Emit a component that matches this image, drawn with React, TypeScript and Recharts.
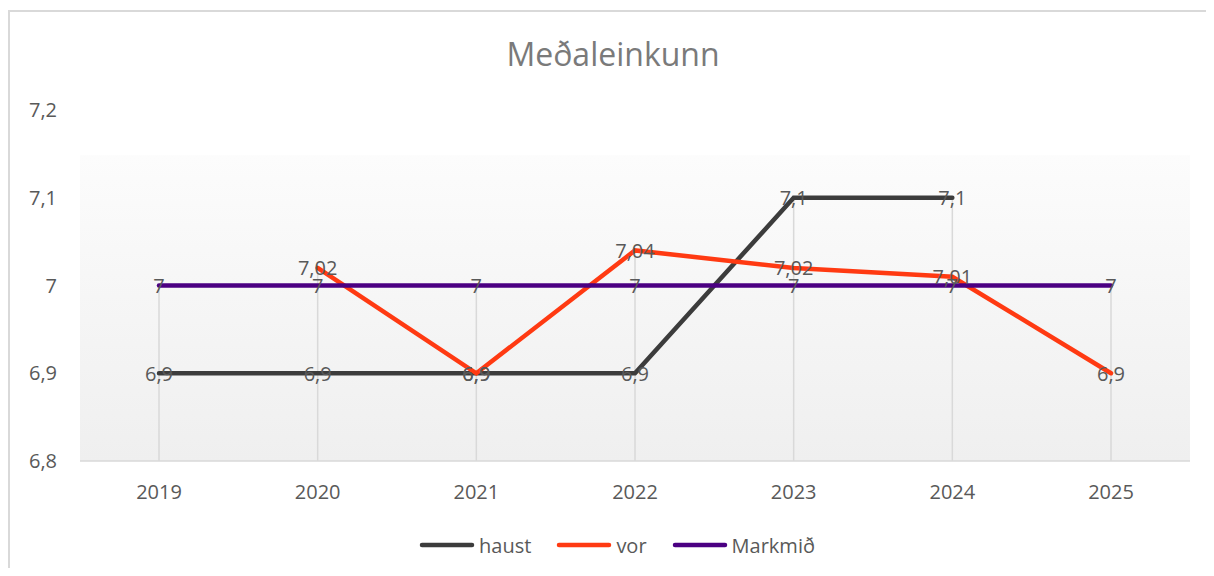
import { LineChart, Line, XAxis, YAxis, CartesianGrid, ReferenceLine, LabelList } from "recharts";

const years = ["2019", "2020", "2021", "2022", "2023", "2024", "2025"];
const haust = [6.9, 6.9, 6.9, 6.9, 7.1, 7.1, null];
const vor = [null, 7.02, 6.9, 7.04, 7.02, 7.01, 6.9];
const markmid = [7, 7, 7, 7, 7, 7, 7];
const yTicks = [6.8, 6.9, 7, 7.1, 7.2];

const series = [
  { key: "haust", name: "haust", color: "#3c3c3c" },
  { key: "vor", name: "vor", color: "#ff3a12" },
  { key: "markmid", name: "Markmið", color: "#4b0082" },
];

const chartData = years.map((year, i) => ({
  year,
  haust: haust[i],
  vor: vor[i],
  markmid: markmid[i],
}));

// drop lines go from the highest point in each year down to the axis
const dropLines = years.map((year, i) => ({
  year,
  top: Math.max(...[haust[i], vor[i], markmid[i]].filter((v): v is number => v != null)),
}));

const fmt = (v: any) => String(v).replace(".", ",");
const FONT = "'Open Sans', sans-serif";

const renderLabel = (props: any) => {
  const x = props.x ?? props.viewBox?.x;
  const y = props.y ?? props.viewBox?.y;
  if (props.value == null || x == null || y == null) return null;
  return (
    <text x={x} y={y} textAnchor="middle" dominantBaseline="central" fill="#595959" fontSize={20} fontFamily={FONT}>
      {fmt(props.value)}
    </text>
  );
};

export default function App() {
  return (
    <div
      style={{
        position: "relative",
        top: 2,
        width: 1204,
        height: 560,
        borderLeft: "2px solid #d9d9d9",
        borderTop: "2px solid #d9d9d9",
        boxSizing: "border-box",
        fontFamily: FONT,
      }}
    >
      <div
        style={{
          position: "absolute",
          top: 23,
          left: 0,
          width: 1206,
          textAlign: "center",
          fontSize: 32,
          lineHeight: 1.2,
          color: "#7a7a7a",
        }}
      >
        Meðaleinkunn
      </div>

      <LineChart width={1202} height={558} data={chartData} margin={{ top: 98, right: 22, left: 0, bottom: 69 }}>
        <defs>
          <linearGradient id="plotBg" x1="0" y1="0" x2="0" y2="1">
            <stop offset="0" stopColor="#ffffff" />
            <stop offset="0.128" stopColor="#ffffff" />
            <stop offset="0.13" stopColor="#fcfcfc" />
            <stop offset="1" stopColor="#efefef" />
          </linearGradient>
        </defs>
        <CartesianGrid horizontal={false} vertical={false} fill="url(#plotBg)" />
        <XAxis
          dataKey="year"
          padding={{ left: 79, right: 79 }}
          height={40}
          axisLine={{ stroke: "#d9d9d9", strokeWidth: 1.5 }}
          tickLine={false}
          tickSize={0}
          tickMargin={24}
          tick={{ fill: "#595959", fontSize: 20, fontFamily: FONT }}
        />
        <YAxis
          width={70}
          domain={[6.8, 7.2]}
          ticks={yTicks}
          axisLine={false}
          tickLine={false}
          tickSize={0}
          tickMargin={23}
          tickFormatter={fmt}
          tick={{ fill: "#595959", fontSize: 20, fontFamily: FONT }}
        />
        {dropLines.map((d) => (
          <ReferenceLine
            key={d.year}
            segment={[
              { x: d.year, y: 6.8 },
              { x: d.year, y: d.top },
            ]}
            stroke="#d9d9d9"
            strokeWidth={1.5}
          />
        ))}
        {series.map((s) => (
          <Line
            key={s.key}
            dataKey={s.key}
            name={s.name}
            stroke={s.color}
            strokeWidth={4.5}
            strokeLinecap="round"
            dot={false}
            activeDot={false}
            isAnimationActive={false}
          />
        ))}
        {/* labels drawn after all lines so they sit on top */}
        {series.map((s) => (
          <Line
            key={s.key + "-labels"}
            dataKey={s.key}
            stroke="none"
            legendType="none"
            dot={false}
            activeDot={false}
            isAnimationActive={false}
          >
            <LabelList dataKey={s.key} content={renderLabel} />
          </Line>
        ))}
      </LineChart>

      <div
        style={{
          position: "absolute",
          top: 521,
          left: 4,
          width: 1206,
          height: 24,
          display: "flex",
          justifyContent: "center",
          alignItems: "center",
          gap: 25,
          fontSize: 20,
          color: "#595959",
        }}
      >
        {series.map((s) => (
          <div key={s.key} style={{ display: "flex", alignItems: "center" }}>
            <svg width={56} height={8} style={{ marginRight: 4 }}>
              <line x1={3} y1={4} x2={53} y2={4} stroke={s.color} strokeWidth={4.5} strokeLinecap="round" />
            </svg>
            <span>{s.name}</span>
          </div>
        ))}
      </div>
    </div>
  );
}
